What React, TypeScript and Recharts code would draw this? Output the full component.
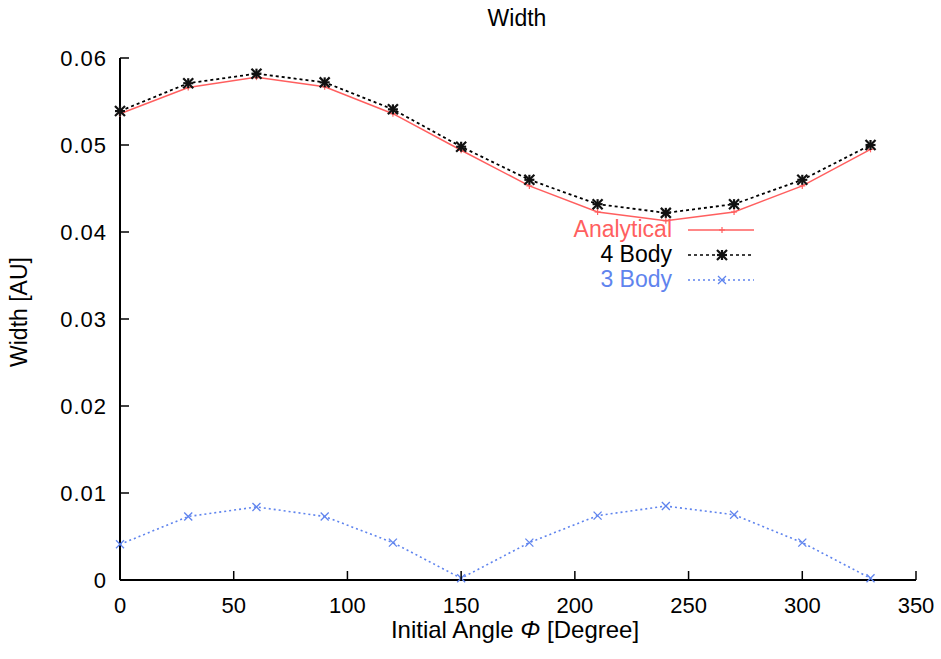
import React from 'react';
import { LineChart, XAxis, YAxis, Line } from 'recharts';

const angles = [0, 30, 60, 90, 120, 150, 180, 210, 240, 270, 300, 330];
const analytical = [0.0536, 0.0566, 0.0578, 0.0567, 0.0536, 0.0494, 0.0453, 0.0423, 0.0413, 0.0423, 0.0453, 0.0495];
const fourBody = [0.0539, 0.0571, 0.0582, 0.0572, 0.0541, 0.0498, 0.046, 0.0432, 0.0422, 0.0432, 0.046, 0.05];
const threeBody = [0.0041, 0.0073, 0.0084, 0.0073, 0.0043, 0.0002, 0.0043, 0.0074, 0.0085, 0.0075, 0.0043, 0.0002];
const xTicks = [0, 50, 100, 150, 200, 250, 300, 350];
const yTicks = [0, 0.01, 0.02, 0.03, 0.04, 0.05, 0.06];

const data = angles.map((a, i) => ({ angle: a, analytical: analytical[i], four: fourBody[i], three: threeBody[i] }));

const FONT = '"Liberation Sans", Arial, sans-serif';
const RED = '#ff5f5f';
const BLUE = '#5f84ee';

const fmtY = (v: number) => (v === 0 ? '0' : v.toFixed(2));

const BottomTick = ({ x, y, payload }: any) => (
  <g>
    <line x1={x} x2={x} y1={y} y2={y - 9} stroke="#000" strokeWidth={1.5} />
    <text x={x} y={y + 33} textAnchor="middle" fontSize={22} fontFamily={FONT} fill="#000">{payload.value}</text>
  </g>
);
const TopTick = ({ x, y }: any) => <line x1={x} x2={x} y1={y} y2={y + 9} stroke="#000" strokeWidth={1.5} />;
const LeftTick = ({ x, y, payload }: any) => (
  <g>
    <line x1={x} x2={x + 9} y1={y} y2={y} stroke="#000" strokeWidth={1.5} />
    <text x={x - 13} y={y + 8} textAnchor="end" fontSize={22} letterSpacing={1} fontFamily={FONT} fill="#000">{fmtY(payload.value)}</text>
  </g>
);
const RightTick = ({ x, y }: any) => <line x1={x} x2={x - 9} y1={y} y2={y} stroke="#000" strokeWidth={1.5} />;

const PlusDot = ({ cx, cy }: any) => (
  <g stroke={RED} strokeWidth={1.2}>
    <line x1={cx - 3} x2={cx + 3} y1={cy} y2={cy} />
    <line x1={cx} x2={cx} y1={cy - 3} y2={cy + 3} />
  </g>
);
const StarDot = ({ cx, cy }: any) => (
  <g stroke="#111" strokeWidth={2.2}>
    <line x1={cx - 5} x2={cx + 5} y1={cy - 5} y2={cy + 5} />
    <line x1={cx - 5} x2={cx + 5} y1={cy + 5} y2={cy - 5} />
    <line x1={cx - 5} x2={cx + 5} y1={cy} y2={cy} />
    <line x1={cx} x2={cx} y1={cy - 5} y2={cy + 5} />
  </g>
);
const CrossDot = ({ cx, cy }: any) => (
  <g stroke={BLUE} strokeWidth={1.3}>
    <line x1={cx - 4} x2={cx + 4} y1={cy - 4} y2={cy + 4} />
    <line x1={cx - 4} x2={cx + 4} y1={cy + 4} y2={cy - 4} />
  </g>
);

const legendRows = [
  { name: 'Analytical', color: RED, dash: undefined, dot: PlusDot },
  { name: '4 Body', color: '#000', dash: '3 3', dot: StarDot },
  { name: '3 Body', color: BLUE, dash: '2 3', dot: CrossDot },
];

export default function App() {
  return (
    <div style={{ position: 'absolute', left: 0, top: 0, width: 941, height: 659, background: '#fff', fontFamily: FONT }}>
      <div style={{ position: 'absolute', left: 517, top: 5, fontSize: 23, transform: 'translateX(-50%)', whiteSpace: 'nowrap' }}>Width</div>
      <div style={{ position: 'absolute', left: 19, top: 312, fontSize: 23, transform: 'translate(-50%, -50%) rotate(-90deg)', whiteSpace: 'nowrap' }}>Width [AU]</div>
      <div style={{ position: 'absolute', left: 515, top: 616, fontSize: 24, transform: 'translateX(-50%)', whiteSpace: 'nowrap' }}>
        Initial Angle <i>Φ</i> [Degree]
      </div>
      <LineChart width={941} height={659} data={data} margin={{ top: 58, right: 25, left: 0, bottom: 0 }}>
        <XAxis dataKey="angle" type="number" domain={[0, 350]} ticks={xTicks} height={79} tickSize={0} tickMargin={0} tickLine={false}
          axisLine={{ stroke: '#000', strokeWidth: 2 }} tick={<BottomTick />} interval={0} />
        <XAxis xAxisId="top" orientation="top" dataKey="angle" type="number" domain={[0, 350]} ticks={xTicks} height={0} tickSize={0}
          tickMargin={0} tickLine={false} axisLine={{ stroke: '#000', strokeWidth: 2 }} tick={<TopTick />} interval={0} />
        <YAxis type="number" domain={[0, 0.06]} ticks={yTicks} width={120} tickSize={0} tickMargin={0} tickLine={false}
          axisLine={{ stroke: '#000', strokeWidth: 2 }} tick={<LeftTick />} interval={0} />
        <YAxis yAxisId="right" orientation="right" type="number" domain={[0, 0.06]} ticks={yTicks} width={0} tickSize={0} tickMargin={0}
          tickLine={false} axisLine={{ stroke: '#000', strokeWidth: 2 }} tick={<RightTick />} interval={0} />
        <Line dataKey="analytical" stroke={RED} strokeWidth={1.5} dot={<PlusDot />} isAnimationActive={false} />
        <Line dataKey="four" stroke="#000" strokeWidth={1.8} strokeDasharray="3 3" dot={<StarDot />} isAnimationActive={false} />
        <Line dataKey="three" stroke={BLUE} strokeWidth={1.6} strokeDasharray="2 3" dot={<CrossDot />} isAnimationActive={false} />
      </LineChart>
      <div style={{ position: 'absolute', left: 532, top: 217 }}>
        {legendRows.map((r) => {
          const D = r.dot;
          return (
            <div key={r.name} style={{ display: 'flex', alignItems: 'center', height: 25 }}>
              <span style={{ width: 140, textAlign: 'right', fontSize: 23, color: r.color }}>{r.name}</span>
              <svg width={68} height={20} style={{ marginLeft: 16 }}>
                <line x1={0} x2={66} y1={10} y2={10} stroke={r.color} strokeWidth={1.5} strokeDasharray={r.dash} />
                <D cx={34} cy={10} />
              </svg>
            </div>
          );
        })}
      </div>
    </div>
  );
}
